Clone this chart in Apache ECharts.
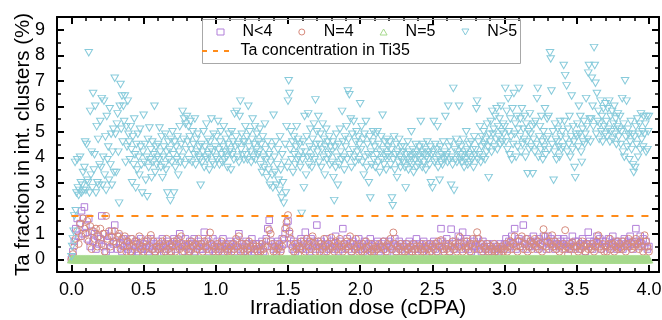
<!DOCTYPE html>
<html><head><meta charset="utf-8">
<script src="https://cdn.jsdelivr.net/npm/echarts@6/dist/echarts.min.js"></script>
<style>html,body{margin:0;padding:0;background:#fff}#c{width:662px;height:320px}</style>
</head><body><div id="c"></div>
<script>
// ---------- data ----------
const seriesNames = ['N<4', 'N=4', 'N=5', 'N>5'];
const lineName = 'Ta concentration in Ti35';
const xAxisTitle = 'Irradiation dose (cDPA)';
const yAxisTitle = 'Ta fraction in int. clusters (%)';
const xMajorTicks = [0, 0.5, 1.0, 1.5, 2.0, 2.5, 3.0, 3.5, 4.0];
const yMajorTicks = [0, 1, 2, 3, 4, 5, 6, 7, 8, 9];
const doseStepLow = 0.01;   // dose sampling of N<4 and N=4 (cDPA)
const doseStepHigh = 0.005; // dose sampling of N=5 and N>5 (cDPA)
const taConcentration = 1.7;
const taDoseRange = [0, 4];

const nLess4 = [
0,0.3,0.7,1.2,1.6,0.9,1.4,1.9,1.0,2.05,
1.3,0.8,1.6,0.5,1.1,0.7,1.0,0.4,0.9,0.6,
0.8,1.7,0.5,1.0,0.3,0.7,0.9,0.4,1.1,0.6,
1.34,0.7,0.4,0.9,0.6,0.3,0.8,0.5,0.7,0.4,
0.5,0.8,0.3,0.6,0.4,0.7,0.3,0.5,0.8,0.4,
0.6,0.4,0.7,0.3,0.5,0.8,0.4,0.6,0.3,0.5,
0.7,0.4,0.5,0.8,0.3,0.6,0.4,0.7,0.5,0.3,
0.6,0.8,0.4,0.7,0.5,1.0,0.6,0.3,0.5,0.8,
0.5,0.3,0.7,0.4,0.6,0.8,0.3,0.5,0.7,0.4,
0.6,0.4,1.06,0.5,0.7,0.3,0.6,0.4,0.8,0.5,
0.3,0.7,0.5,0.4,0.6,0.8,0.3,0.5,0.4,0.6,
0.7,0.4,0.6,0.3,0.5,0.7,1.0,0.4,0.6,0.3,
0.5,0.7,0.3,0.6,0.4,0.8,0.5,0.3,0.6,0.4,
0.6,0.4,0.7,0.3,0.5,0.8,1.2,1.53,0.7,0.5,
0.4,0.6,0.3,0.7,0.5,0.4,0.8,0.6,1.0,1.25,
1.5,1.0,0.6,0.4,0.7,0.3,0.5,0.6,0.4,0.8,
0.5,0.7,1.06,0.4,0.6,0.3,0.8,0.5,0.7,0.4,
1.34,0.6,0.4,0.7,0.5,0.3,0.6,0.8,0.4,0.5,
0.7,0.4,0.6,0.9,0.5,0.3,0.7,0.4,1.2,0.6,
0.5,0.8,0.4,0.6,0.3,0.7,0.5,0.4,0.6,0.8,
0.4,0.6,0.3,0.7,0.5,0.4,0.6,0.8,0.3,0.5,
0.6,0.4,0.7,0.3,0.5,0.6,0.4,0.7,0.5,0.3,
0.7,0.5,0.4,0.6,0.8,0.3,0.5,0.7,0.4,0.6,
0.5,0.3,0.6,0.4,0.7,0.5,0.3,0.6,0.4,0.8,
0.4,0.6,0.5,0.3,0.7,0.4,0.6,0.5,0.3,0.6,
0.5,0.7,0.4,0.6,0.3,0.5,1.2,0.7,0.4,0.6,
0.8,0.5,0.3,1.18,0.6,0.4,0.7,0.5,0.9,0.6,
0.4,1.06,0.7,0.5,0.8,0.4,0.6,0.3,0.5,0.7,
0.5,0.8,0.4,0.6,0.3,0.7,0.5,0.4,0.6,0.3,
0.5,0.4,0.6,0.3,0.5,0.4,0.3,0.6,0.4,0.5,
0.6,0.8,0.4,0.7,0.5,0.9,0.6,1.2,0.4,0.7,
0.8,0.5,0.7,1.34,0.6,0.4,0.8,0.5,0.7,0.6,
0.9,0.5,0.7,0.4,0.8,0.6,0.5,0.9,0.7,0.4,
0.9,0.6,0.8,0.5,0.7,0.4,0.6,0.8,0.5,0.7,
0.6,0.8,0.4,0.7,0.5,0.6,0.4,0.9,0.5,0.7,
0.5,0.7,0.4,0.6,0.8,0.5,0.3,0.6,1.06,0.7,
0.6,0.4,0.7,0.5,0.9,0.6,0.8,0.4,0.7,0.5,
0.7,0.5,0.8,0.4,0.6,0.9,0.5,0.7,0.4,0.6,
0.5,0.7,0.4,0.8,0.6,0.5,0.7,0.9,0.6,0.4,
0.6,1.2,0.7,0.5,0.9,0.6,0.8,0.5,0.7,0.4,
0.5];

const nEq4 = [
0,0.2,0.5,0.8,1.1,0.6,1.4,0.9,1.6,1.2,
1.0,1.5,0.7,1.3,0.4,1.1,0.8,1.2,0.5,0.9,
1.2,0.6,1.0,0.3,1.7,0.8,1.1,0.5,0.9,0.7,
1.1,0.6,0.9,1.0,0.4,0.8,0.5,0.9,0.3,0.7,
0.6,0.3,0.8,0.5,0.7,0.2,0.6,0.9,0.4,0.5,
0.3,0.7,0.5,0.8,0.2,0.95,0.4,0.7,0.3,0.5,
0.4,0.6,0.2,0.7,0.5,0.3,0.8,0.4,0.6,0.3,
0.5,0.7,0.3,0.6,0.8,0.4,0.9,0.5,0.3,0.6,
0.4,0.6,0.3,0.7,0.5,0.2,0.6,0.4,0.8,0.5,
0.6,0.3,0.7,0.5,0.4,0.8,1.05,0.6,0.3,0.5,
0.4,0.6,0.3,0.5,0.7,0.2,0.5,0.6,0.3,0.4,
0.5,0.3,0.6,0.4,0.8,0.5,0.9,0.3,0.6,0.4,
0.3,0.6,0.4,0.7,0.5,0.2,0.6,0.4,0.5,0.3,
0.5,0.3,0.6,0.4,0.2,0.7,0.5,1.14,1.0,0.6,
0.3,0.5,0.2,0.4,0.6,0.3,0.5,0.8,1.2,1.45,
1.73,1.1,0.8,0.5,0.3,0.6,0.4,0.2,0.5,0.7,
0.4,0.6,0.3,0.8,0.5,0.7,0.4,0.9,0.6,0.3,
0.5,0.7,0.3,0.6,0.4,0.8,0.5,0.3,0.6,0.4,
0.85,0.5,0.3,0.7,0.4,0.6,0.8,0.5,0.3,0.6,
0.4,0.7,0.5,0.9,0.3,0.6,0.4,0.8,0.5,0.3,
0.5,0.3,0.6,0.4,0.7,0.2,0.5,0.3,0.6,0.4,
0.3,0.5,0.4,0.6,0.2,0.5,0.7,0.4,0.3,0.6,
0.5,0.8,0.4,1.05,0.6,0.3,0.5,0.4,0.6,0.3,
0.5,0.3,0.6,0.4,0.2,0.5,0.3,0.6,0.4,0.5,
0.3,0.5,0.4,0.6,0.3,0.5,0.2,0.4,0.6,0.3,
0.5,0.4,0.6,0.3,0.7,0.5,0.75,0.4,0.3,0.5,
0.4,0.6,0.3,0.5,0.7,0.4,0.6,0.3,0.5,0.87,
0.5,0.3,0.6,0.4,0.7,0.5,0.3,0.6,0.8,0.4,
0.6,1.06,0.8,0.4,0.6,0.3,0.5,0.4,0.6,0.3,
0.5,0.3,0.4,0.6,0.3,0.5,0.2,0.4,0.5,0.3,
0.4,0.6,0.3,0.5,0.7,0.4,0.6,0.9,0.5,0.3,
0.7,0.5,0.9,0.4,0.6,0.8,0.3,0.5,0.7,0.4,
0.6,0.8,0.5,0.7,0.4,0.6,0.3,1.18,0.9,0.5,
0.7,0.4,0.6,0.94,0.5,0.7,0.4,0.6,0.3,0.5,
0.4,0.6,1.14,0.5,0.2,0.4,0.6,0.67,0.5,0.4,
0.5,0.3,0.6,0.4,0.7,0.5,0.3,0.6,0.4,0.5,
0.4,0.6,0.3,0.5,0.7,0.94,0.5,0.4,0.6,0.3,
0.5,0.3,0.6,0.8,0.4,0.6,0.3,0.5,0.7,0.4,
0.6,0.4,0.7,0.5,0.3,0.6,0.8,0.5,0.4,0.7,
0.5,0.8,0.6,0.4,0.7,0.5,0.3,0.94,0.7,0.5,
0.3];

const nEq5 = [
0,0,0,0,0,0,0,0,0,0,0,0,0,0,0,0,0,0,0,0,0,0,0,0,0,0,0,0,0,0,0,0,0,0,0,0,0,0,0,0,
0,0,0,0,0,0,0,0,0,0,0,0,0,0,0,0,0,0,0,0,0,0,0,0,0,0,0,0,0,0,0,0,0,0,0,0,0,0,0,0,
0,0,0,0,0,0,0,0,0,0,0,0,0,0,0,0,0,0,0,0,0,0,0,0,0,0,0,0,0,0,0,0,0,0,0,0,0,0,0,0,
0,0,0,0,0,0,0,0,0,0,0,0,0,0,0,0,0,0,0,0,0,0,0,0,0,0,0,0,0,0,0,0,0,0,0,0,0,0,0,0,
0,0,0,0,0,0,0,0,0,0,0,0,0,0,0,0,0,0,0,0,0,0,0,0,0,0,0,0,0,0,0,0,0,0,0,0,0,0,0,0,
0,0,0,0,0,0,0,0,0,0,0,0,0,0,0,0,0,0,0,0,0,0,0,0,0,0,0,0,0,0,0,0,0,0,0,0,0,0,0,0,
0,0,0,0,0,0,0,0,0,0,0,0,0,0,0,0,0,0,0,0,0,0,0,0,0,0,0,0,0,0,0,0,0,0,0,0,0,0,0,0,
0,0,0,0,0,0,0,0,0,0,0,0,0,0,0,0,0,0,0,0,0,0,0,0,0,0,0,0,0,0,0,0,0,0,0,0,0,0,0,0,
0,0,0,0,0,0,0,0,0,0,0,0,0,0,0,0,0,0,0,0,0,0,0,0,0,0,0,0,0,0,0,0,0,0,0,0,0,0,0,0,
0,0,0,0,0,0,0,0,0,0,0,0,0,0,0,0,0,0,0,0,0,0,0,0,0,0,0,0,0,0,0,0,0,0,0,0,0,0,0,0,
0,0,0,0,0,0,0,0,0,0,0,0,0,0,0,0,0,0,0,0,0,0,0,0,0,0,0,0,0,0,0,0,0,0,0,0,0,0,0,0,
0,0,0,0,0,0,0,0,0,0,0,0,0,0,0,0,0,0,0,0,0,0,0,0,0,0,0,0,0,0,0,0,0,0,0,0,0,0,0,0,
0,0,0,0,0,0,0,0,0,0,0,0,0,0,0,0,0,0,0,0,0,0,0,0,0,0,0,0,0,0,0,0,0,0,0,0,0,0,0,0,
0,0,0,0,0,0,0,0,0,0,0,0,0,0,0,0,0,0,0,0,0,0,0,0,0,0,0,0,0,0,0,0,0,0,0,0,0,0,0,0,
0,0,0,0,0,0,0,0,0,0,0,0,0,0,0,0,0,0,0,0,0,0,0,0,0,0,0,0,0,0,0,0,0,0,0,0,0,0,0,0,
0,0,0,0,0,0,0,0,0,0,0,0,0,0,0,0,0,0,0,0,0,0,0,0,0,0,0,0,0,0,0,0,0,0,0,0,0,0,0,0,
0,0,0,0,0,0,0,0,0,0,0,0,0,0,0,0,0,0,0,0,0,0,0,0,0,0,0,0,0,0,0,0,0,0,0,0,0,0,0,0,
0,0,0,0,0,0,0,0,0,0,0,0,0,0,0,0,0,0,0,0,0,0,0,0,0,0,0,0,0,0,0,0,0,0,0,0,0,0,0,0,
0,0,0,0,0,0,0,0,0,0,0,0,0,0,0,0,0,0,0,0,0,0,0,0,0,0,0,0,0,0,0,0,0,0,0,0,0,0,0,0,
0,0,0,0,0,0,0,0,0,0,0,0,0,0,0,0,0,0,0,0,0,0,0,0,0,0,0,0,0,0,0,0,0,0,0,0,0,0,0,0,
0];

const nMore5 = [
0.1,0.5,0.8,1.1,1.7,3.8,1.9,2.6,3.9,2.8,2.5,2.7,4.0,3.0,2.6,2.9,3.4,2.7,3.6,4.6,
2.7,4.5,3.1,3.0,8.1,2.6,5.8,3.3,4.2,2.8,6.5,3.5,4.1,6.0,2.6,5.2,3.0,4.7,2.9,3.7,
5.4,3.6,6.3,2.9,4.0,6.2,3.3,4.8,2.7,5.6,3.9,4.4,3.1,5.9,3.7,4.9,2.9,4.2,5.1,3.4,
7.1,4.9,3.4,5.3,5.7,4.2,2.2,6.0,6.85,5.1,6.4,4.6,6.0,5.4,6.4,3.8,5.2,4.4,6.2,4.9,
4.6,3.9,5.2,4.3,3.0,4.8,3.7,5.5,4.1,2.8,4.5,3.5,4.9,4.0,3.3,5.1,4.4,3.7,2.6,4.2,
5.65,3.8,4.5,3.1,4.0,2.45,4.7,3.6,5.15,3.9,4.3,3.2,4.6,3.8,4.1,6.0,3.4,4.4,3.7,4.0,
4.5,3.9,5.15,4.2,3.6,4.8,3.2,4.0,4.4,3.7,4.9,3.5,4.2,2.6,4.6,3.9,4.3,2.3,4.7,3.8,
5.0,4.1,2.6,4.6,3.6,4.4,3.9,4.8,3.3,4.2,5.2,3.8,4.5,4.0,5.8,4.7,5.5,3.7,5.3,4.3,
5.6,4.6,5.2,3.9,4.8,5.4,4.3,3.8,5.0,4.5,4.1,5.5,3.7,4.7,4.2,4.9,4.0,4.4,3.9,2.9,
4.5,3.8,4.2,5.0,3.6,4.4,4.0,5.3,3.9,4.7,4.1,3.5,4.6,4.3,5.5,3.8,4.2,4.9,3.7,4.4,
4.0,4.8,3.9,5.4,4.3,3.7,4.6,5.0,4.1,3.8,4.4,5.2,3.9,4.2,4.7,4.0,3.6,4.5,4.9,4.2,
4.3,3.5,5.0,4.1,4.6,3.9,5.7,4.4,4.8,5.8,4.0,4.5,3.8,5.6,6.2,4.3,4.9,4.1,4.6,3.9,
4.6,5.2,4.1,4.8,3.9,6.0,4.4,5.0,4.2,3.8,4.7,5.5,4.0,4.5,5.2,3.9,4.3,4.9,4.1,4.6,
4.2,5.1,3.7,4.5,3.4,4.8,4.0,3.6,5.3,4.3,3.9,3.2,4.6,3.5,4.1,2.9,3.8,4.4,3.3,2.8,
5.65,4.0,3.4,4.6,2.9,3.7,4.3,3.1,2.7,4.8,3.5,2.4,4.1,3.0,2.2,3.8,4.5,2.6,5.2,3.6,
6.2,7.0,6.5,4.3,5.0,3.9,4.6,3.4,4.8,4.1,3.7,4.4,5.2,3.9,4.7,4.0,4.5,3.6,4.2,1.8,
3.9,4.6,2.8,5.6,4.2,3.3,4.8,4.0,5.7,3.7,4.4,5.1,4.0,3.6,4.7,4.3,5.3,3.9,6.25,4.5,
5.0,4.2,5.6,3.8,4.5,4.9,3.6,4.3,5.3,4.0,4.7,3.3,4.4,5.1,3.9,4.6,4.1,4.8,3.7,4.4,
4.2,3.8,4.6,3.2,2.3,4.4,3.6,4.9,4.0,2.9,4.5,3.7,5.1,4.2,3.9,5.8,4.6,4.0,3.5,4.8,
4.4,5.2,3.9,6.6,4.7,6.45,4.1,5.5,3.6,4.9,4.3,5.4,4.0,3.8,4.6,5.0,4.2,4.8,3.9,4.5,
6.1,4.3,5.2,3.8,4.7,3.3,4.9,4.0,5.4,3.6,4.5,4.1,3.0,4.8,2.4,4.2,3.7,4.6,5.0,3.9,
4.4,3.6,4.9,4.1,5.0,3.8,4.5,3.4,4.2,4.8,3.9,5.65,4.3,3.7,4.6,4.0,3.5,4.7,4.1,4.4,
4.0,4.6,3.7,4.3,2.4,2.1,3.9,4.8,3.5,4.1,4.5,3.2,4.2,3.8,4.7,4.0,3.6,4.4,3.9,4.2,
3.8,4.4,3.6,2.8,4.1,3.9,4.6,3.5,4.2,3.8,4.0,5.0,3.7,4.3,3.4,4.1,3.9,4.5,3.6,4.2,
4.0,3.7,4.4,3.9,5.4,4.2,3.6,4.5,3.8,4.1,4.3,3.5,4.0,4.6,3.9,4.2,3.7,4.4,3.0,4.1,
2.8,4.2,5.4,3.8,4.5,3.9,4.3,5.2,3.6,4.0,3.1,4.4,3.8,4.1,3.7,4.6,3.9,4.2,5.6,4.0,
4.1,3.8,6.0,4.4,3.9,4.6,2.9,4.0,3.7,6.7,2.7,4.3,3.9,4.7,3.8,4.2,4.5,6.0,3.9,4.1,
4.4,3.8,4.0,4.7,3.6,4.2,3.9,5.0,4.3,3.7,4.1,4.5,3.8,4.0,4.6,3.9,4.3,3.6,4.8,4.1,
4.3,5.9,6.2,3.9,4.6,4.1,5.2,3.8,4.4,4.8,4.0,5.0,4.5,3.9,4.7,4.2,5.3,4.4,3.2,4.9,
4.6,5.4,4.2,5.8,4.9,5.1,4.4,5.6,4.7,5.9,4.3,5.2,4.8,5.5,4.5,6.0,5.0,4.6,5.3,4.9,
5.2,6.7,4.6,5.8,4.3,6.3,5.0,4.1,5.5,4.8,3.9,5.9,4.5,6.5,4.9,5.3,4.0,5.6,4.4,5.1,
6.7,4.8,5.5,4.2,5.9,4.5,5.1,4.7,5.6,4.0,5.3,4.6,3.35,5.0,4.3,5.7,4.9,4.4,5.2,3.35,
4.7,5.3,4.2,5.4,4.5,6.3,6.7,4.0,4.8,5.2,4.3,5.6,4.6,3.9,5.0,4.4,5.9,4.1,4.7,5.5,
4.8,5.6,4.3,8.1,7.85,6.6,4.5,5.0,3.1,4.2,5.3,4.7,3.9,4.6,5.1,4.4,4.0,5.4,4.8,4.3,
5.0,4.4,7.6,5.4,7.2,4.7,6.8,4.2,5.1,4.5,5.6,4.0,4.8,6.4,4.3,5.2,4.6,3.6,3.2,4.9,
4.8,5.3,4.4,6.0,4.9,5.6,4.2,3.8,5.1,4.6,5.4,4.5,4.9,6.3,5.2,4.7,7.3,7.6,5.5,4.6,
5.5,7.1,6.0,5.2,8.3,7.6,6.9,4.9,6.5,5.4,5.8,4.7,5.3,6.2,5.0,5.6,4.6,5.9,5.2,4.9,
6.1,5.4,4.8,5.9,5.1,6.2,4.6,5.6,5.0,5.8,4.7,5.3,6.0,4.9,5.5,4.5,5.2,5.7,4.8,5.1,
5.6,4.5,5.0,6.3,4.2,5.3,4.0,7.0,4.8,6.2,4.4,5.1,4.9,3.9,4.6,5.4,4.3,4.9,3.7,3.4,
4.8,3.6,5.2,4.5,5.5,4.0,4.9,5.3,4.3,5.7,4.7,5.0,4.4,5.6,4.9,5.3,4.2,5.6,4.3,5.0,
5.6];

// ---------- chart ----------
const FONT = "'Liberation Sans', Arial, sans-serif";
const colors = { nLess4: '#b17fd9', nEq4: '#d78a7c', nEq5: '#a6d98c', nMore5: '#88cbdb', ta: '#ff8c1a' };

function toPoints(values, step) {
  return values.map((v, i) => [Math.round(i * step * 10000) / 10000, v]);
}
function minorBetween(majors, parts) {
  const out = [];
  for (let i = 0; i < majors.length - 1; i++) {
    const a = majors[i], b = majors[i + 1];
    for (let k = 1; k < parts; k++) out.push(+(a + (b - a) * k / parts).toFixed(4));
  }
  return out;
}
const xMinorTicks = minorBetween(xMajorTicks, 5);
const yMinorTicks = minorBetween(yMajorTicks, 2);

const X_MIN = -0.1, X_MAX = 4.07, Y_MIN = -0.5, Y_MAX = 9.5;

function mkAxis(kind, position, ticks, len, width, withLine, withLabels, extra) {
  const isX = kind === 'x';
  const ax = {
    type: 'value', position: position,
    min: isX ? X_MIN : Y_MIN, max: isX ? X_MAX : Y_MAX,
    axisLine: { show: withLine, onZero: false, lineStyle: { color: '#000', width: 2 } },
    axisTick: { show: true, inside: true, length: len, customValues: ticks, lineStyle: { color: '#000', width: width } },
    axisLabel: { show: withLabels },
    splitLine: { show: false },
    minorTick: { show: false }
  };
  return Object.assign(ax, extra || {});
}

const xAxes = [
  mkAxis('x', 'bottom', xMajorTicks, 7, 2, true, true, {
    axisLabel: { show: true, customValues: xMajorTicks, formatter: v => v.toFixed(1), fontSize: 18, color: '#000', margin: 9, fontFamily: FONT },
    name: xAxisTitle, nameLocation: 'middle', nameGap: 26, nameMoveOverlap: false,
    nameTextStyle: { fontSize: 21, color: '#000', fontFamily: FONT }
  }),
  mkAxis('x', 'bottom', xMinorTicks, 4, 1.5, false, false),
  mkAxis('x', 'top', xMajorTicks, 7, 2, true, false),
  mkAxis('x', 'top', xMinorTicks, 4, 1.5, false, false)
];
const yAxes = [
  mkAxis('y', 'left', yMajorTicks, 7, 2, true, true, {
    axisLabel: { show: true, customValues: yMajorTicks, formatter: v => String(v), fontSize: 18, color: '#000', margin: 12, fontFamily: FONT },
    name: yAxisTitle, nameLocation: 'middle', nameGap: 23, nameMoveOverlap: false,
    nameTextStyle: { fontSize: 20.5, color: '#000', fontFamily: FONT }
  }),
  mkAxis('y', 'left', yMinorTicks, 4, 1.5, false, false),
  mkAxis('y', 'right', yMajorTicks, 7, 2, true, false),
  mkAxis('y', 'right', yMinorTicks, 4, 1.5, false, false)
];

function scatter(name, values, step, symbol, size, color, rotate, fill) {
  return {
    name: name, type: 'scatter', xAxisIndex: 0, yAxisIndex: 0,
    data: toPoints(values, step),
    symbol: symbol, symbolSize: size, symbolRotate: rotate || 0,
    itemStyle: { color: fill || 'transparent', borderColor: color, borderWidth: 1, opacity: 1 },
    emphasis: { disabled: true },
    silent: true
  };
}

const hollow = c => ({ color: 'transparent', borderColor: c, borderWidth: 1 });

const option = {
  animation: false,
  backgroundColor: '#fff',
  textStyle: { fontFamily: FONT },
  grid: { left: 57, right: 3, top: 17, bottom: 48, containLabel: false, outerBoundsMode: 'none' },
  xAxis: xAxes,
  yAxis: yAxes,
  legend: [
    {
      data: [
        { name: seriesNames[0], icon: 'rect', itemStyle: hollow(colors.nLess4) },
        { name: seriesNames[1], icon: 'circle', itemStyle: hollow(colors.nEq4) },
        { name: seriesNames[2], icon: 'triangle', itemStyle: hollow(colors.nEq5) },
        { name: seriesNames[3], icon: 'path://M0,0L10,0L5,8.66Z', itemStyle: hollow(colors.nMore5) }
      ],
      left: 216.5, top: 24, padding: 0,
      itemWidth: 7, itemHeight: 6, itemGap: 26, selectedMode: false,
      textStyle: { fontSize: 16, color: '#000', fontFamily: FONT, padding: [0, 0, 0, 13.5] }
    },
    {
      data: [{ name: lineName, icon: 'path://M0,0H5V2H0Z M11,0H16V2H11Z M22,0H27V2H22Z', itemStyle: { color: colors.ta, borderWidth: 0 } }],
      left: 202, top: 43, padding: 0,
      itemWidth: 28, itemHeight: 2, selectedMode: false,
      textStyle: { fontSize: 16, color: '#000', fontFamily: FONT, padding: [0, 0, 0, 6] }
    }
  ],
  graphic: [{
    type: 'rect', left: 200, top: 17, z: 1, silent: true,
    shape: { width: 318, height: 44 },
    style: { fill: 'none', stroke: '#a8a8a8', lineWidth: 1 }
  }],
  series: [
    scatter(seriesNames[0], nLess4, doseStepLow, 'rect', 6.5, colors.nLess4),
    scatter(seriesNames[1], nEq4, doseStepLow, 'circle', 7, colors.nEq4),
    scatter(seriesNames[2], nEq5, doseStepHigh, 'triangle', [7.5, 7], colors.nEq5, 0, colors.nEq5),
    scatter(seriesNames[3], nMore5, doseStepHigh, 'triangle', [7.5, 6.5], colors.nMore5, 180),
    {
      name: lineName, type: 'line', xAxisIndex: 0, yAxisIndex: 0,
      data: [[taDoseRange[0], taConcentration], [taDoseRange[1], taConcentration]],
      symbol: 'none', showSymbol: false, silent: true,
      lineStyle: { color: colors.ta, width: 2, type: [7, 8] },
      itemStyle: { color: colors.ta }
    }
  ]
};

const chart = echarts.init(document.getElementById('c'), null, { renderer: 'canvas' });
chart.setOption(option);
</script>
</body></html>
